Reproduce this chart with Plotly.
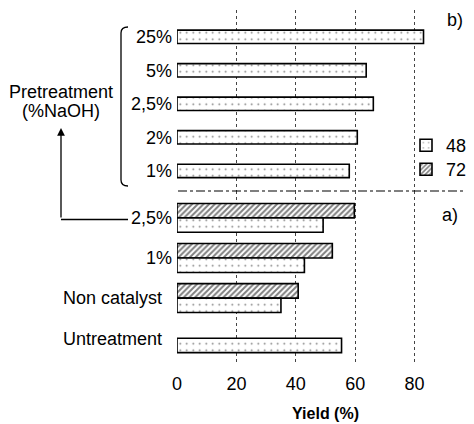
import plotly.graph_objects as go

# ---- data ----
upper_cats = ["1%", "2%", "2,5%", "5%", "25%"]
upper_48 = [58.0, 60.7, 66.1, 63.7, 83.0]

lower_cats = ["Untreatment", "Non catalyst", "1%", "2,5%"]
lower_48 = [55.4, 35.0, 42.9, 49.2]
lower_72 = [None, 40.8, 52.3, 59.7]

x_ticks = [0, 20, 40, 60, 80]

# ---- layout helpers (screen pixel -> paper); page body adds an 8px offset ----
OFF = 8
W, H = 474 - OFF, 424 - OFF
ML, MR, MT, MB = 177 - OFF, 0, 10 - OFF, 60
PW, PH = W - ML - MR, H - MT - MB
PLOT_L, PLOT_B = ML + OFF, H - MB + OFF


def X(px):
    return (px - PLOT_L) / PW


def Y(py):
    return (PLOT_B - py) / PH


split = Y(191)
FONT = "Arial, Liberation Sans, Helvetica, sans-serif"
FS = 18

dot_pattern = dict(shape=".", size=6.5, solidity=0.06, fgcolor="black", bgcolor="white")
hatch_pattern = dict(shape="/", size=4, solidity=0.5, fgcolor="black", bgcolor="white")
outline = dict(color="black", width=1.6)

fig = go.Figure()

# upper panel (b)
fig.add_trace(go.Bar(
    y=upper_cats, x=upper_48, orientation="h", name="48", legendgroup="48",
    showlegend=True, legend="legend", width=0.4,
    marker=dict(color="white", pattern=dot_pattern, line=outline),
    xaxis="x2", yaxis="y2",
))
# lower panel (a)
fig.add_trace(go.Bar(
    y=lower_cats, x=lower_72, orientation="h", name="72", legendgroup="72",
    showlegend=True, legend="legend2", width=0.36, offset=0,
    marker=dict(color="white", pattern=hatch_pattern, line=outline),
    xaxis="x", yaxis="y",
))
fig.add_trace(go.Bar(
    y=lower_cats, x=lower_48, orientation="h", name="48", legendgroup="48",
    showlegend=False, width=0.36, offset=-0.36,
    marker=dict(color="white", pattern=dot_pattern, line=outline),
    xaxis="x", yaxis="y",
))

grid = dict(showgrid=True, gridcolor="#444444", griddash="dot", gridwidth=1, zeroline=False,
            showline=False, range=[0, 100], tickvals=x_ticks)

lower_ticktext = ["Untreatment\u00a0\u00a0", "Non catalyst\u00a0\u00a0", "1%", "2,5%"]

leg_common = dict(xanchor="left", yanchor="top", bgcolor="rgba(0,0,0,0)",
                  font=dict(size=FS), tracegroupgap=0)

fig.update_layout(
    width=W, height=H,
    margin=dict(l=ML, r=MR, t=MT, b=MB),
    plot_bgcolor="white", paper_bgcolor="white",
    barmode="overlay",
    font=dict(family=FONT, size=FS, color="black"),
    showlegend=True,
    legend=dict(x=X(406), y=Y(127), **leg_common),
    legend2=dict(x=X(406), y=Y(151), **leg_common),
    xaxis=dict(domain=[0, 1], anchor="y", **grid, showticklabels=True, ticks="",
               ticklabelstandoff=7,
               title=dict(text="<b>Yield (%)</b>", font=dict(size=16), standoff=14)),
    xaxis2=dict(domain=[0, 1], anchor="y2", matches="x", **grid, showticklabels=False, ticks=""),
    yaxis=dict(domain=[0, split], type="category", categoryorder="array", categoryarray=lower_cats,
               range=[-0.643, 3.67], showgrid=False, zeroline=False, showline=False, ticks="",
               tickvals=lower_cats, ticktext=lower_ticktext, ticklabelstandoff=4),
    yaxis2=dict(domain=[split, 1], type="category", categoryorder="array", categoryarray=upper_cats,
                range=[-0.6, 4.8], showgrid=False, zeroline=False, showline=False, ticks="",
                ticklabelstandoff=4),
)

# panel labels and side annotations
ann = [
    dict(text="b)", x=X(455), y=Y(20)),
    dict(text="a)", x=X(450), y=Y(215)),
    dict(text="Pretreatment", x=X(61), y=Y(92)),
    dict(text="(%NaOH)", x=X(61), y=Y(111)),
]
for a in ann:
    fig.add_annotation(xref="paper", yref="paper", showarrow=False, xanchor="center",
                       yanchor="middle", font=dict(size=FS), **a)

# arrow from "2,5%" up to the Pretreatment label
fig.add_annotation(xref="paper", yref="paper", x=X(61), y=Y(128), ax=0, ay=91,
                   axref="pixel", ayref="pixel", showarrow=True, arrowhead=2, arrowsize=1.2,
                   arrowwidth=1.3, arrowcolor="black", standoff=0, text="")
fig.add_shape(type="line", xref="paper", yref="paper", x0=X(61), y0=Y(219.5), x1=X(128), y1=Y(219.5),
              line=dict(color="black", width=1.3))

# bracket for pretreatment group
bx, bt, bb, hook = 121, 27, 186, 128
path = (f"M{X(hook)},{Y(bt)} Q{X(bx)},{Y(bt)} {X(bx)},{Y(bt+6)} "
        f"L{X(bx)},{Y(bb-6)} Q{X(bx)},{Y(bb)} {X(hook)},{Y(bb)}")
fig.add_shape(type="path", xref="paper", yref="paper", path=path, line=dict(color="black", width=1.3))

# dash-dot separator between panels
fig.add_shape(type="line", xref="paper", yref="paper", x0=X(178), y0=split, x1=1, y1=split,
              line=dict(color="black", width=1.2, dash="dashdot"))

fig.write_html("out.html")
